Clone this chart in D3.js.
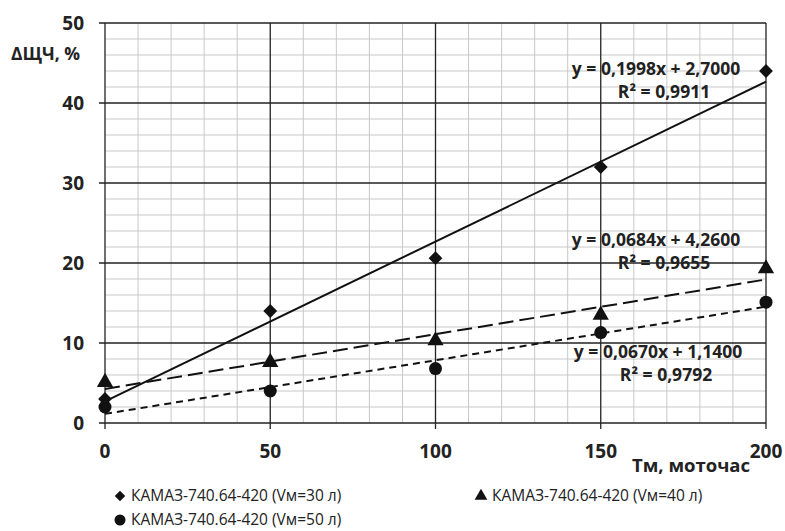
<!DOCTYPE html>
<html>
<head>
<meta charset="utf-8">
<script src="https://cdn.jsdelivr.net/npm/d3@7"></script>
<style>
  body { margin: 0; background: #fff; }
  text { font-family: "Open Sans", sans-serif; fill: #222; }
</style>
</head>
<body>
<div id="chart"></div>
<script>
// series values
const hours = [0, 50, 100, 150, 200];
const v30 = [3, 14, 20.6, 32, 44];
const v40 = [5.1, 7.6, 10.3, 13.5, 19.3];
const v50 = [2, 4, 6.8, 11.3, 15.1];

// trend lines: slope, intercept, labels
const trend30 = [0.1998, 2.7];
const trend40 = [0.0684, 4.26];
const trend50 = [0.067, 1.14];
const eq30 = ["y = 0,1998x + 2,7000", "R² = 0,9911"];
const eq40 = ["y = 0,0684x + 4,2600", "R² = 0,9655"];
const eq50 = ["y = 0,0670x + 1,1400", "R² = 0,9792"];

const xTicks = [0, 50, 100, 150, 200];
const yTicks = [0, 10, 20, 30, 40, 50];
const legendNames = ["КАМАЗ-740.64-420 (Vм=30 л)", "КАМАЗ-740.64-420 (Vм=40 л)", "КАМАЗ-740.64-420 (Vм=50 л)"];

const W = 785, H = 531;
const svg = d3.select("#chart").append("svg").attr("width", W).attr("height", H);

const x = d3.scaleLinear().domain([0, 200]).range([105, 766]);
const y = d3.scaleLinear().domain([0, 50]).range([423, 23]);

// minor grid
const g = svg.append("g");
g.selectAll(".vmin").data(d3.range(10, 200, 10).filter(v => v % 50)).enter().append("line")
  .attr("x1", d => x(d)).attr("x2", d => x(d)).attr("y1", y(0)).attr("y2", y(50))
  .attr("stroke", "#c8c8c8").attr("stroke-width", 1);
g.selectAll(".hmin").data(d3.range(2, 50, 2).filter(v => v % 10)).enter().append("line")
  .attr("x1", x(0)).attr("x2", x(200)).attr("y1", d => y(d)).attr("y2", d => y(d))
  .attr("stroke", "#c8c8c8").attr("stroke-width", 1);

// major grid + ticks
g.selectAll(".vmaj").data(xTicks).enter().append("line")
  .attr("x1", d => x(d)).attr("x2", d => x(d)).attr("y1", y(50)).attr("y2", y(0) + 6)
  .attr("stroke", "#222").attr("stroke-width", 1.3);
g.selectAll(".hmaj").data(yTicks).enter().append("line")
  .attr("x1", x(0) - 6).attr("x2", x(200)).attr("y1", d => y(d)).attr("y2", d => y(d))
  .attr("stroke", "#222").attr("stroke-width", 1.3);

// tick labels
svg.selectAll(".yl").data(yTicks).enter().append("text")
  .attr("x", 84).attr("y", d => y(d) + 7).attr("text-anchor", "end")
  .attr("font-size", 19).attr("font-weight", "bold").text(d => d);
svg.selectAll(".xl").data(xTicks).enter().append("text")
  .attr("x", d => x(d)).attr("y", 458).attr("text-anchor", "middle")
  .attr("font-size", 19).attr("font-weight", "bold").text(d => d);

// axis titles
svg.append("text").attr("x", 11).attr("y", 60).attr("font-size", 17.5).attr("font-weight", "bold").text("ΔЩЧ, %");
svg.append("text").attr("x", 750).attr("y", 472).attr("text-anchor", "end")
  .attr("font-size", 18.5).attr("font-weight", "bold").text("Тм, моточас");

// trend lines
function trend(c, dash) {
  svg.append("line")
    .attr("x1", x(0)).attr("y1", y(c[1]))
    .attr("x2", x(200)).attr("y2", y(c[0] * 200 + c[1]))
    .attr("stroke", "#111").attr("stroke-width", 2)
    .attr("stroke-dasharray", dash);
}
trend(trend30, null);
trend(trend40, "15,6");
trend(trend50, "7,5");

// markers
const diamond = d3.symbol().type(d3.symbolSquare).size(95);
svg.selectAll(".m30").data(hours).enter().append("path")
  .attr("d", diamond)
  .attr("transform", (d, i) => "translate(" + x(d) + "," + y(v30[i]) + ") rotate(45)")
  .attr("fill", "#111");
const tri = d3.symbol().type(d3.symbolTriangle).size(115);
svg.selectAll(".m40").data(hours).enter().append("path")
  .attr("d", tri)
  .attr("transform", (d, i) => "translate(" + x(d) + "," + y(v40[i]) + ")")
  .attr("fill", "#111");
svg.selectAll(".m50").data(hours).enter().append("circle")
  .attr("cx", d => x(d)).attr("cy", (d, i) => y(v50[i])).attr("r", 6.5)
  .attr("fill", "#111");

// equations
function eq(lines, cx, cy) {
  lines.forEach((t, i) => {
    svg.append("text").attr("x", cx + (i ? 8 : 0)).attr("y", cy + i * 23)
      .attr("text-anchor", "middle").attr("font-size", 17.5).attr("font-weight", "bold")
      .text(t);
  });
}
eq(eq30, 656, 75);
eq(eq40, 656, 246);
eq(eq50, 658, 358);

// legend
const leg = [
  { sym: "diamond", x: 120, y: 496, name: legendNames[0] },
  { sym: "triangle", x: 481, y: 496, name: legendNames[1] },
  { sym: "circle", x: 120, y: 520, name: legendNames[2] }
];
leg.forEach(l => {
  if (l.sym === "diamond") {
    svg.append("path").attr("d", d3.symbol().type(d3.symbolSquare).size(55))
      .attr("transform", "translate(" + l.x + "," + l.y + ") rotate(45)").attr("fill", "#111");
  } else if (l.sym === "triangle") {
    svg.append("path").attr("d", d3.symbol().type(d3.symbolTriangle).size(70))
      .attr("transform", "translate(" + l.x + "," + l.y + ")").attr("fill", "#111");
  } else {
    svg.append("circle").attr("cx", l.x).attr("cy", l.y).attr("r", 5.5).attr("fill", "#111");
  }
  svg.append("text").attr("x", l.x + 11).attr("y", l.y + 5).attr("font-size", 15.5).text(l.name);
});
</script>
</body>
</html>
